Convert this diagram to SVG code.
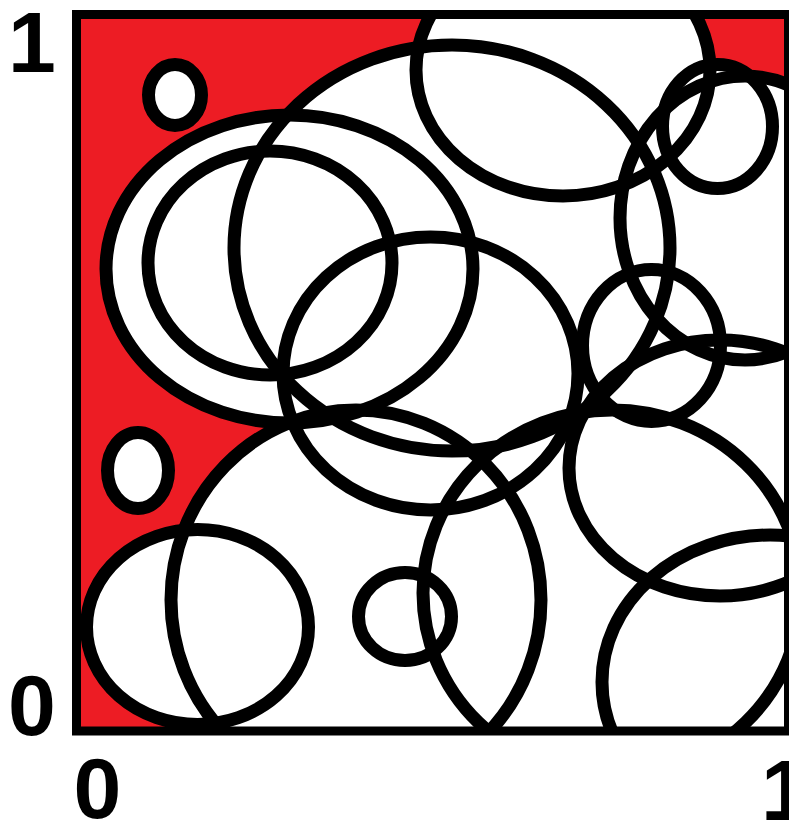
<svg xmlns="http://www.w3.org/2000/svg" xmlns:xlink="http://www.w3.org/1999/xlink" width="789" height="823" viewBox="0 0 789 823">
<style>
.lbl{font-family:"Liberation Sans",Arial,sans-serif;font-weight:bold;font-size:86px;fill:#000;text-anchor:middle}
.fill use{fill:#fff;stroke:none}
.ring use{fill:none;stroke:#000;stroke-width:13}
</style>
<defs>
<clipPath id="sq"><rect x="76.5" y="14.5" width="712" height="716.5"/></clipPath>
<ellipse id="e1" cx="175" cy="95" rx="26.5" ry="30.5"/>
<ellipse id="e2" cx="138" cy="470.5" rx="30.5" ry="38"/>
<ellipse id="e3" cx="197.5" cy="627" rx="111" ry="97.5"/>
<ellipse id="e4" cx="405" cy="616.5" rx="46.5" ry="44"/>
<ellipse id="e5" cx="563" cy="70" rx="147" ry="126"/>
<ellipse id="e6" cx="452" cy="248" rx="218" ry="203"/>
<ellipse id="e7" cx="289.5" cy="269" rx="183.5" ry="154"/>
<ellipse id="e8" cx="270" cy="263" rx="122" ry="112"/>
<ellipse id="e9" cx="430.5" cy="373.5" rx="147.5" ry="136.5"/>
<ellipse id="e10" cx="717.5" cy="126.5" rx="55" ry="62"/>
<ellipse id="e11" cx="745" cy="218" rx="125" ry="142"/>
<ellipse id="e12" cx="720" cy="468" rx="151" ry="128"/>
<ellipse id="e13" cx="651.5" cy="345.5" rx="69" ry="76"/>
<ellipse id="e14" cx="770" cy="682" rx="168" ry="147"/>
<ellipse id="e15" cx="612" cy="593" rx="189" ry="183"/>
<ellipse id="e16" cx="356" cy="600" rx="185" ry="190"/>
</defs>
<rect id="background" x="76.5" y="14.5" width="712" height="716.5" fill="#ed1c24"/>
<g id="discs" class="fill" clip-path="url(#sq)">
<use xlink:href="#e1"/><use xlink:href="#e2"/><use xlink:href="#e3"/><use xlink:href="#e4"/>
<use xlink:href="#e5"/><use xlink:href="#e6"/><use xlink:href="#e7"/><use xlink:href="#e8"/>
<use xlink:href="#e9"/><use xlink:href="#e10"/><use xlink:href="#e11"/><use xlink:href="#e12"/>
<use xlink:href="#e13"/><use xlink:href="#e14"/><use xlink:href="#e15"/><use xlink:href="#e16"/>
</g>
<g id="rings" class="ring" clip-path="url(#sq)">
<use xlink:href="#e1"/><use xlink:href="#e2"/><use xlink:href="#e3"/><use xlink:href="#e4"/>
<use xlink:href="#e5"/><use xlink:href="#e6"/><use xlink:href="#e7"/><use xlink:href="#e8"/>
<use xlink:href="#e9"/><use xlink:href="#e10"/><use xlink:href="#e11"/><use xlink:href="#e12"/>
<use xlink:href="#e13"/><use xlink:href="#e14"/><use xlink:href="#e15"/><use xlink:href="#e16"/>
</g>
<rect id="frame" x="76.5" y="14.5" width="712" height="716.5" fill="none" stroke="#000" stroke-width="9"/>
<g id="labels">
<text class="lbl" x="32" y="72">1</text>
<text class="lbl" x="32" y="735">0</text>
<text class="lbl" x="97.5" y="818">0</text>
<text class="lbl" x="785" y="820">1</text>
</g>
</svg>
